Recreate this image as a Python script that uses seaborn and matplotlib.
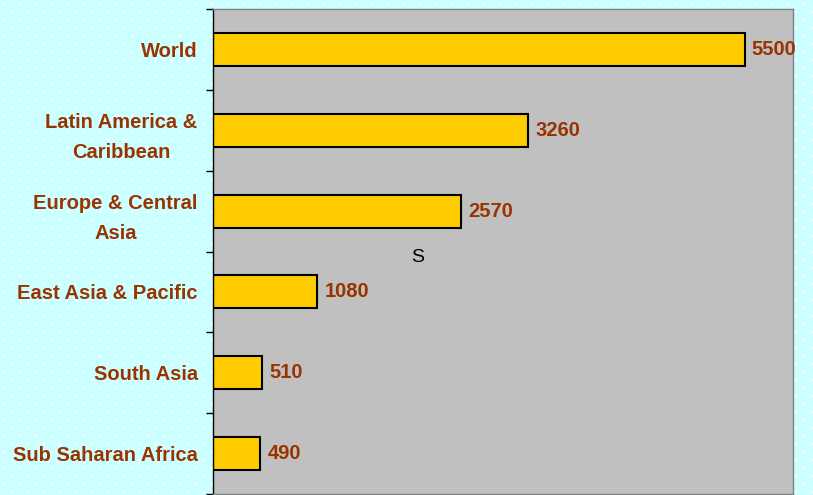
import numpy as np
import pandas as pd
import matplotlib
matplotlib.use("Agg")
import matplotlib.pyplot as plt
import seaborn as sns
from matplotlib import font_manager

categories = ["World", "Latin America &\nCaribbean", "Europe & Central\nAsia",
              "East Asia & Pacific", "South Asia", "Sub Saharan Africa"]
values = [5500, 3260, 2570, 1080, 510, 490]

sns.set_theme(style="white")
names = {f.name for f in font_manager.fontManager.ttflist}
fam = "Liberation Sans Narrow" if "Liberation Sans Narrow" in names else "Liberation Sans"
plt.rcParams["font.family"] = [fam, "DejaVu Sans"]

df = pd.DataFrame({"region": categories, "value": values})

fig = plt.figure(figsize=(8.13, 4.95), dpi=100)
fig.patch.set_facecolor("#CCFFFF")

# dotted background pattern
bg = fig.add_axes([0, 0, 1, 1], zorder=-5)
bg.set_xlim(0, 813)
bg.set_ylim(495, 0)
bg.axis("off")
gx, gy = np.meshgrid(np.arange(4, 813, 16), np.arange(4, 495, 16))
bg.scatter(gx.ravel(), gy.ravel(), s=1.2, c="white", marker="s", linewidths=0)
bg.scatter(gx.ravel() + 8, gy.ravel() + 8, s=1.2, c="white", marker="s", linewidths=0)

ax = fig.add_axes([213 / 813, 1 / 495, 580 / 813, 485 / 495])
ax.set_facecolor("#C0C0C0")
sns.barplot(data=df, y="region", x="value", orient="h", color="#FFCC00",
            edgecolor="black", linewidth=1.5, width=0.41, saturation=1, ax=ax)
ax.set_xlim(0, 6000)
ax.set_ylim(5.5, -0.5)
ax.set_xlabel("")
ax.set_ylabel("")
ax.xaxis.set_visible(False)

ax.tick_params(axis="y", which="major", length=0, pad=11)
ax.set_yticks(np.arange(-0.5, 6.0, 1.0), minor=True)
ax.tick_params(axis="y", which="minor", length=5, width=1, color="black", left=True)
for lab in ax.get_yticklabels():
    lab.set_fontsize(14.5)
    lab.set_fontweight("bold")
    lab.set_color("#993300")
    lab.set_multialignment("center")
    lab.set_linespacing(1.75)

for c in ax.containers:
    ax.bar_label(c, padding=5, fontsize=14.5, fontweight="bold", color="#993300")

ax.text(0.353, 0.487, "S", transform=ax.transAxes, fontsize=14, color="black",
        ha="center", va="center", family=["Liberation Sans", "DejaVu Sans"])

ax.spines["left"].set_color("black")
ax.spines["left"].set_linewidth(1)
for s in ["top", "right", "bottom"]:
    ax.spines[s].set_color("#808080")
    ax.spines[s].set_linewidth(1)

fig.savefig("out.png", dpi=100, facecolor=fig.get_facecolor())
